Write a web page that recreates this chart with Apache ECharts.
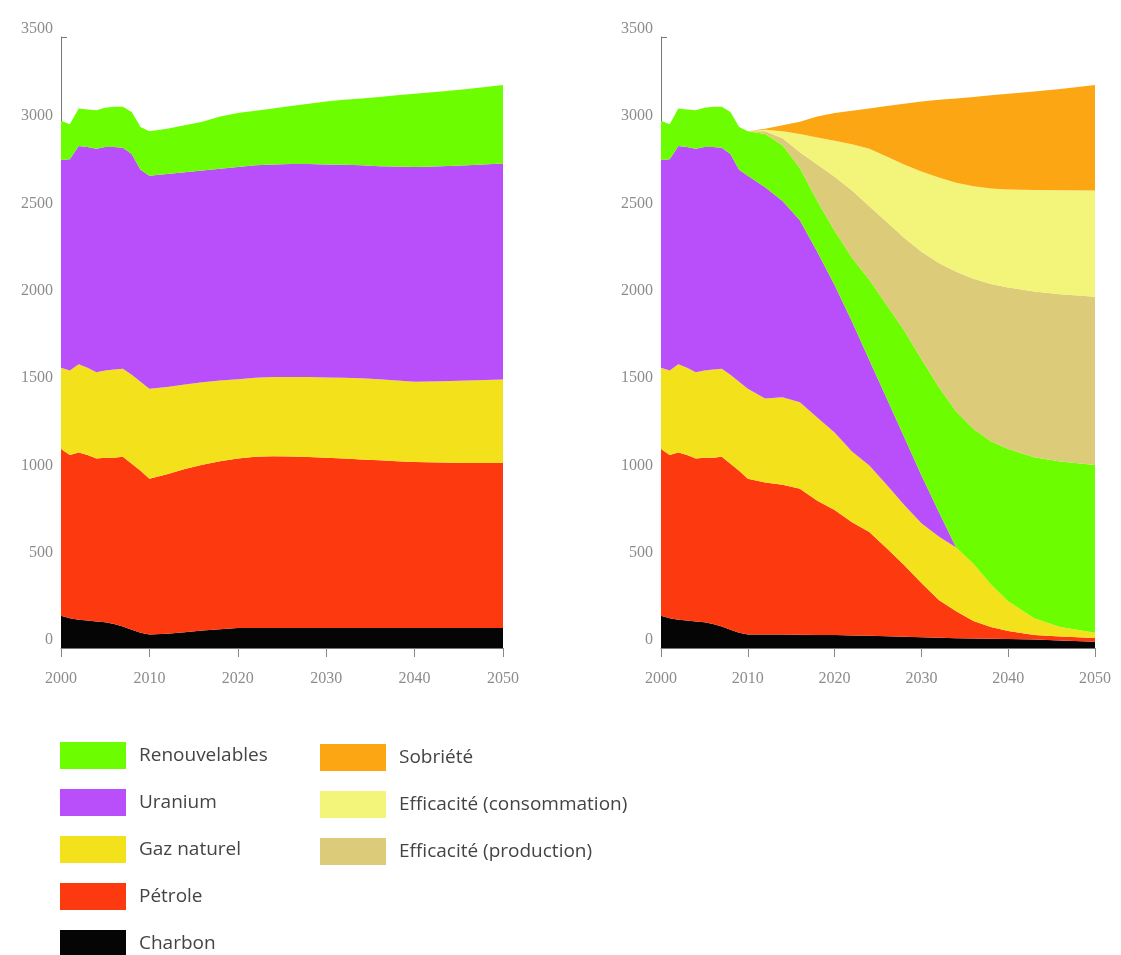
<!DOCTYPE html>
<html>
<head>
<meta charset="utf-8">
<script src="https://cdn.jsdelivr.net/npm/echarts@6/dist/echarts.min.js"></script>
<style>
html,body{margin:0;padding:0;background:#fff;}
#c{width:1121px;height:955px;}
</style>
</head>
<body>
<div id="c"></div>
<script>
// Years sampled along the x axis
const years = [2000,2001,2002,2003,2004,2005,2006,2007,2008,2009,2010,2012,2014,2016,2018,2020,2022,2024,2026,2028,2030,2032,2034,2036,2038,2040,2043,2046,2050];

// Left chart (tendance) – per-source values
const charbonL = [185,170,162,158,152,148,138,123,105,88,78,82,90,100,108,115,115,115,115,115,115,115,115,115,115,115,115,115,115];
const petroleL = [955,935,958,947,933,942,952,972,950,927,892,913,935,950,962,970,980,983,982,979,975,970,965,960,955,950,947,945,945];
const gazL = [465,485,505,500,495,500,505,505,510,510,515,500,485,472,462,455,453,454,455,458,460,463,465,465,462,460,466,472,478];
const uraniumL = [1190,1210,1250,1265,1280,1280,1275,1265,1265,1215,1220,1220,1215,1213,1213,1215,1217,1218,1220,1220,1220,1220,1220,1220,1226,1230,1232,1233,1237];
const renouvL = [225,200,215,215,220,225,230,235,240,245,255,260,270,280,300,310,313,320,333,346,360,372,383,397,408,420,428,437,450];

// Right chart (scénario) – per-source values
const charbonR = [185,170,162,158,152,148,138,123,105,88,78,78,77,76,75,75,72,70,67,64,61,58,56,54,53,52,48,43,36];
const petroleR = [955,935,958,947,933,942,952,972,950,927,892,870,858,836,768,715,648,595,505,411,311,217,154,101,67,46,27,23,21];
const gazR = [465,485,505,500,495,500,505,505,510,510,515,481,501,496,478,445,405,380,363,345,343,363,365,327,245,170,95,54,31];
const uraniumR = [1190,1210,1250,1265,1280,1280,1275,1265,1265,1215,1220,1211,1124,1042,949,845,745,605,495,390,275,142,0,0,0,0,0,0,0];
const renouvR = [225,200,215,215,220,225,230,235,240,245,255,305,320,300,290,310,365,460,535,610,665,715,780,773,820,872,922,948,960];
const effProdR = [0,0,0,0,0,0,0,0,0,0,0,15,40,90,210,310,385,420,475,530,615,710,800,860,900,925,950,959,964];
const effConsR = [0,0,0,0,0,0,0,0,0,0,0,8,40,105,155,205,265,330,375,420,460,490,510,530,547,562,582,595,608];
const sobrieteR = [0,0,0,0,0,0,0,0,0,0,0,7,35,70,120,160,193,230,290,348,400,445,483,512,534,548,564,580,605];

const names = {
  charbon:'Charbon', petrole:'Pétrole', gaz:'Gaz naturel', uranium:'Uranium',
  renouv:'Renouvelables', effProd:'Efficacité (production)',
  effCons:'Efficacité (consommation)', sobriete:'Sobriété'
};
const colors = {
  charbon:'#050505', petrole:'#fd3a0f', gaz:'#f3e11b', uranium:'#b84ffb',
  renouv:'#6cfd00', effProd:'#dccb78', effCons:'#f3f57a', sobriete:'#fda614'
};

function mk(key, arr, idx) {
  return {
    name: names[key], type: 'line', stack: 'S' + idx,
    xAxisIndex: idx, yAxisIndex: idx,
    symbol: 'none', showSymbol: false,
    lineStyle: {width: 0},
    itemStyle: {color: colors[key]},
    areaStyle: {color: colors[key], opacity: 1},
    emphasis: {disabled: true},
    // value first so it is the stacked dimension; year mapped to x
    encode: {x: 1, y: 0},
    data: years.map((y, i) => [arr[i], y])
  };
}

const axisLabelFont = {fontFamily: 'Liberation Serif', fontSize: 16, color: '#8c8c8c'};
function xAx(i) {
  return {
    type: 'value', gridIndex: i, min: 2000, max: 2050, interval: 10,
    axisLine: {show: true, lineStyle: {color: '#777', width: 1}},
    axisTick: {show: true, length: 9, lineStyle: {color: '#888'}},
    axisLabel: Object.assign({margin: 23, formatter: v => String(v)}, axisLabelFont),
    splitLine: {show: false}
  };
}
function yAx(i) {
  return {
    type: 'value', gridIndex: i, min: 0, max: 3500, interval: 500,
    axisLine: {show: true, lineStyle: {color: '#777', width: 1}},
    axisTick: {show: true, inside: true, length: 6, lineStyle: {color: '#777'}},
    axisLabel: Object.assign({margin: 8, verticalAlign: 'bottom', formatter: v => String(v)}, axisLabelFont),
    splitLine: {show: false}
  };
}

const legendText = {fontFamily: 'Open Sans', fontSize: 19, color: '#444', padding: [0, 0, 0, 8]};

const option = {
  animation: false,
  backgroundColor: '#fff',
  grid: [
    {left: 61, top: 37, width: 442, height: 611},
    {left: 661, top: 37, width: 434, height: 611}
  ],
  xAxis: [xAx(0), xAx(1)],
  yAxis: [yAx(0), yAx(1)],
  legend: [
    {data: [names.renouv, names.uranium, names.gaz, names.petrole, names.charbon],
     orient: 'vertical', left: 60, top: 742, height: 240, padding: 0,
     itemWidth: 66, itemHeight: 27, itemGap: 20,
     icon: 'rect', selectedMode: false, textStyle: legendText},
    {data: [names.sobriete, names.effCons, names.effProd],
     orient: 'vertical', left: 320, top: 744, height: 200, padding: 0,
     itemWidth: 66, itemHeight: 27, itemGap: 20,
     icon: 'rect', selectedMode: false, textStyle: legendText}
  ],
  series: [
    mk('charbon', charbonL, 0), mk('petrole', petroleL, 0), mk('gaz', gazL, 0),
    mk('uranium', uraniumL, 0), mk('renouv', renouvL, 0),
    mk('charbon', charbonR, 1), mk('petrole', petroleR, 1), mk('gaz', gazR, 1),
    mk('uranium', uraniumR, 1), mk('renouv', renouvR, 1), mk('effProd', effProdR, 1),
    mk('effCons', effConsR, 1), mk('sobriete', sobrieteR, 1)
  ]
};

const chart = echarts.init(document.getElementById('c'));
chart.setOption(option);
</script>
</body>
</html>
